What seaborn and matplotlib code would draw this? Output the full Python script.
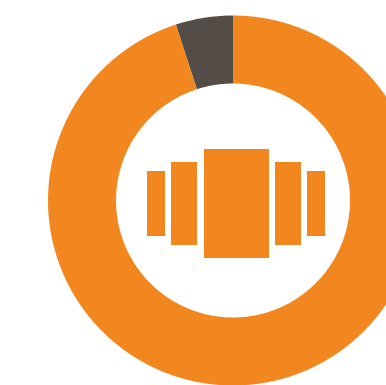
import matplotlib
matplotlib.use("Agg")
import matplotlib.pyplot as plt
import seaborn as sns

# Donut shares, listed counter-clockwise from twelve o'clock
segment_labels = ["Other", "Main"]
segment_values = [5, 95]

# Heights of the five bars in the centre icon
icon_heights = [65, 83, 109, 83, 65]

ORANGE = "#F2871F"
DARK = "#544C47"

sns.set_theme(style="white")
fig = plt.figure(figsize=(3.86, 3.85), dpi=100, facecolor="white")
ax = fig.add_axes([0, 0, 1, 1])
ax.set_xlim(0, 386)
ax.set_ylim(0, 385)

# Ring
cx, cy = 233, 184.5
outer = 185
inner = 117
ax.pie(
    segment_values,
    colors=sns.color_palette([DARK, ORANGE]),
    startangle=90,
    counterclock=True,
    center=(cx, cy),
    radius=outer,
    frame=True,
    wedgeprops={"width": outer - inner, "linewidth": 0},
)

# Centre icon: symmetric bars around the ring's middle
icon_lefts = [147, 171, 204, 275, 307]
icon_widths = [18, 26, 65, 26, 18]
icon_mid = 385 - 203.5
ax.bar(
    icon_lefts,
    icon_heights,
    width=icon_widths,
    bottom=[icon_mid - h / 2 for h in icon_heights],
    align="edge",
    color=ORANGE,
    linewidth=0,
)

ax.set_xlim(0, 386)
ax.set_ylim(0, 385)
ax.set_aspect("auto")
ax.axis("off")
fig.savefig("out.png", dpi=100, facecolor="white")
